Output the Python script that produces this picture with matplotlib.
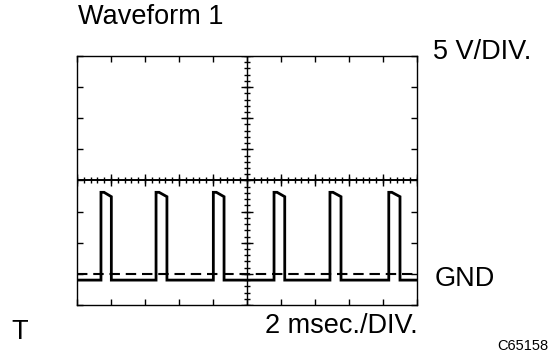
import matplotlib
matplotlib.use('Agg')
import matplotlib.pyplot as plt
import numpy as np

'''
Oscilloscope style drawing of "Waveform 1": a pulse train at 5 V/DIV and
2 msec./DIV, with the GND reference drawn as a dashed line.
'''

# Pulse timing (ms)
rise_ms = [1.41, 4.65, 8.02, 11.59, 14.88, 18.34]
fall_ms = [2.02, 5.29, 8.65, 12.22, 15.53, 19.00]

# Levels (V, relative to GND)
peak_v = 13.1     # top of the pulse right after the rising edge
sag_v = 12.4      # level just before the falling edge
low_v = -1.0      # signal low level (drawn slightly under GND)
gnd_v = 0.0

# Screen settings
volt_per_div = 5
ms_per_div = 2
x_range = (0, 20)
y_range = (-5, 35)
center_x = 10
center_y = 15
flat_top_ms = 0.18

plt.rcParams['font.family'] = ['Liberation Sans', 'DejaVu Sans']


def main():
    # Build the trace from the read edges
    xs = [x_range[0]]
    ys = [low_v]
    for r, f in zip(rise_ms, fall_ms):
        xs += [r, r, r + flat_top_ms, f, f]
        ys += [low_v, peak_v, peak_v, sag_v, low_v]
    xs.append(x_range[1])
    ys.append(low_v)

    fig = plt.figure(figsize=(5.56, 3.53), dpi=100)
    W, H = 556, 353
    ax = fig.add_axes([77 / W, (H - 305) / H, 340 / W, 249 / H])
    ax.set_xlim(*x_range)
    ax.set_ylim(*y_range)

    for s in ax.spines.values():
        s.set_linewidth(1.0)

    ax.set_xticks(np.arange(x_range[0], x_range[1] + 0.01, ms_per_div))
    ax.set_yticks(np.arange(y_range[0], y_range[1] + 0.01, volt_per_div))
    ax.tick_params(direction='in', length=4.5, width=1.0,
                   top=True, right=True,
                   labelbottom=False, labelleft=False)

    # Centre cross with its division marks
    ax.axhline(center_y, color='black', lw=1.4, zorder=2)
    ax.axvline(center_x, color='black', lw=1.0, zorder=2)

    minor_x = np.arange(x_range[0], x_range[1] + 0.01, ms_per_div / 5)
    minor_y = np.arange(y_range[0], y_range[1] + 0.01, volt_per_div / 5)
    major_x = np.arange(x_range[0], x_range[1] + 0.01, ms_per_div)
    major_y = np.arange(y_range[0], y_range[1] + 0.01, volt_per_div)

    ax.plot(minor_x, np.full_like(minor_x, center_y), ls='none',
            marker='|', ms=5, mew=1.0, color='black', zorder=2)
    ax.plot(major_x, np.full_like(major_x, center_y), ls='none',
            marker='|', ms=8, mew=1.0, color='black', zorder=2)
    ax.plot(np.full_like(minor_y, center_x), minor_y, ls='none',
            marker='_', ms=5, mew=1.0, color='black', zorder=2)
    ax.plot(np.full_like(major_y, center_x), major_y, ls='none',
            marker='_', ms=8, mew=1.0, color='black', zorder=2)

    # GND reference and the signal
    ax.axhline(gnd_v, color='black', lw=1.5, dashes=(5, 2.8), zorder=3)
    ax.plot(xs, ys, color='black', lw=2.0, solid_joinstyle='miter', zorder=4)

    # Labels
    fs = 19.5
    fig.text(78 / W, 1 - 24.5 / H, 'Waveform 1', fontsize=fs, va='baseline')
    fig.text(433 / W, 1 - 59 / H, '5 V/DIV.', fontsize=fs, va='baseline')
    fig.text(435 / W, 1 - 286.5 / H, 'GND', fontsize=fs, va='baseline')
    fig.text(418 / W, 1 - 333 / H, '2 msec./DIV.', fontsize=fs,
             va='baseline', ha='right')
    fig.text(11 / W, 1 - 339 / H, 'T', fontsize=fs, va='baseline')
    fig.text(548 / W, 1 - 350 / H, 'C65158', fontsize=10.5, va='baseline',
             ha='right')

    fig.savefig('out.png', dpi=100)


if __name__ == '__main__':
    main()
